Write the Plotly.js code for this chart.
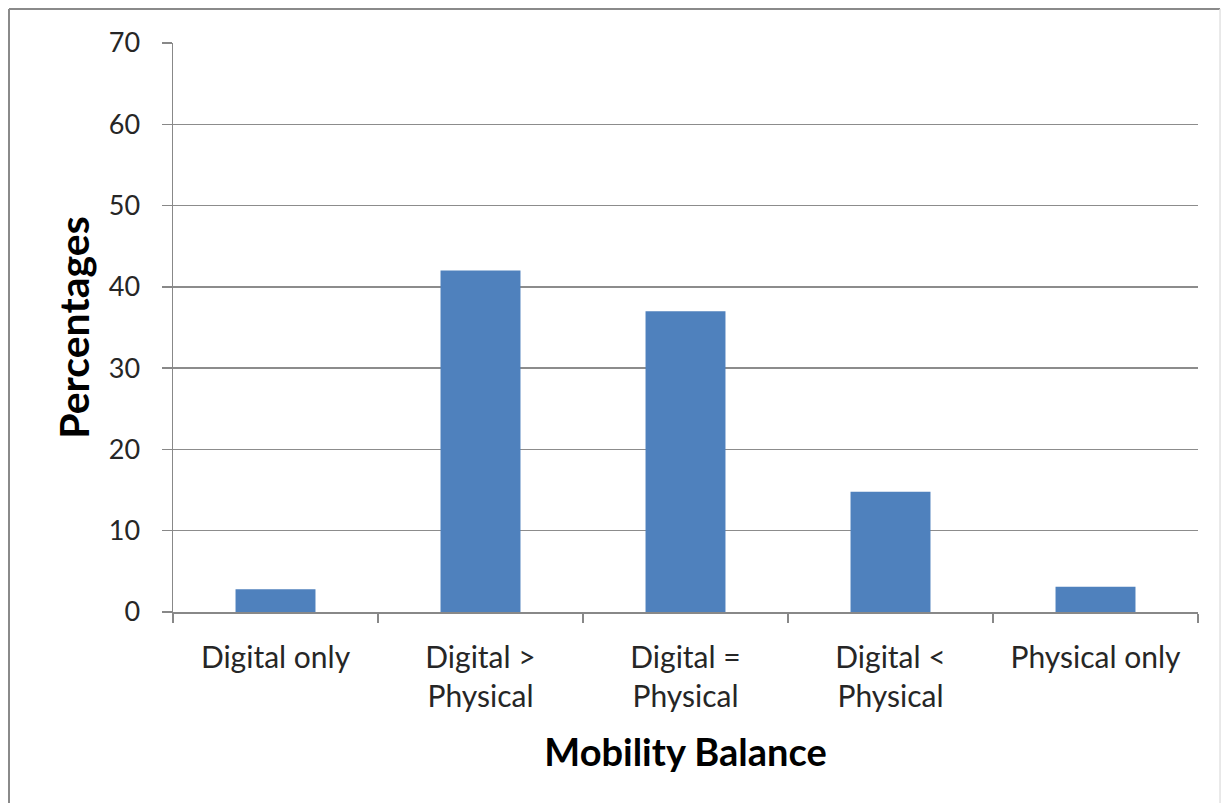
<!DOCTYPE html>
<html>
<head>
<meta charset="utf-8">
<script src="https://cdn.plot.ly/plotly-3.0.1.min.js"></script>
<style>html,body{margin:0;padding:0;background:#fff;}#chart{width:1227px;height:803px;}</style>
</head>
<body>
<div id="chart"></div>
<script>
const categories = ["Digital only", "Digital > Physical", "Digital = Physical", "Digital < Physical", "Physical only"];
const tickLabels = ["Digital only", "Digital &gt;<br>Physical", "Digital =<br>Physical", "Digital &lt;<br>Physical", "Physical only"];
const percentages = [2.8, 42, 37, 14.8, 3.1];
const yTicks = [0, 10, 20, 30, 40, 50, 60, 70];

const font = "Lato, 'Open Sans', sans-serif";
const data = [{
  type: "bar",
  x: categories,
  y: percentages,
  marker: {color: "#4f81bd"},
  hoverinfo: "x+y"
}];
const layout = {
  width: 1227, height: 803,
  margin: {l: 173, r: 29, t: 43, b: 191},
  paper_bgcolor: "#fff", plot_bgcolor: "#fff",
  bargap: 0.61,
  showlegend: false,
  font: {family: font, color: "#222", size: 24},
  xaxis: {
    type: "category",
    tickmode: "array", tickvals: categories, ticktext: tickLabels,
    tickson: "boundaries", ticks: "outside", ticklen: 9, tickcolor: "#888", tickwidth: 1.5,
    showline: true, linecolor: "#888", linewidth: 1.5,
    showgrid: false,
    tickfont: {size: 30, color: "#262626"},
    ticklabelstandoff: 18,
    title: {text: "<b>Mobility Balance</b>", font: {size: 38, color: "#000"}, standoff: 28}
  },
  yaxis: {
    range: [0, 70], tickmode: "array", tickvals: yTicks,
    ticks: "outside", ticklen: 10, tickcolor: "#888", tickwidth: 1.5,
    showline: true, linecolor: "#888", linewidth: 1.5,
    showgrid: true, gridcolor: "#8c8c8c", gridwidth: 1.5,
    zeroline: false,
    tickfont: {size: 27, color: "#262626"},
    ticklabelstandoff: 16,
    title: {text: "<b>Percentages</b>", font: {size: 41, color: "#000"}, standoff: 6}
  },
  shapes: [
    {type: "line", xref: "paper", yref: "paper", x0: -0.16, x1: -0.16, y0: -0.4, y1: 1.0598,
     line: {color: "#8a8a8a", width: 2}},
    {type: "line", xref: "paper", yref: "paper", x0: -0.16, x1: 1.0215, y0: 1.0598, y1: 1.0598,
     line: {color: "#8a8a8a", width: 2}},
    {type: "line", xref: "paper", yref: "paper", x0: 1.0215, x1: 1.0215, y0: -0.4, y1: 1.0598,
     line: {color: "#e2e2e2", width: 1.5}}
  ]
};
Plotly.newPlot("chart", data, layout, {displayModeBar: false, staticPlot: true});
</script>
</body>
</html>
